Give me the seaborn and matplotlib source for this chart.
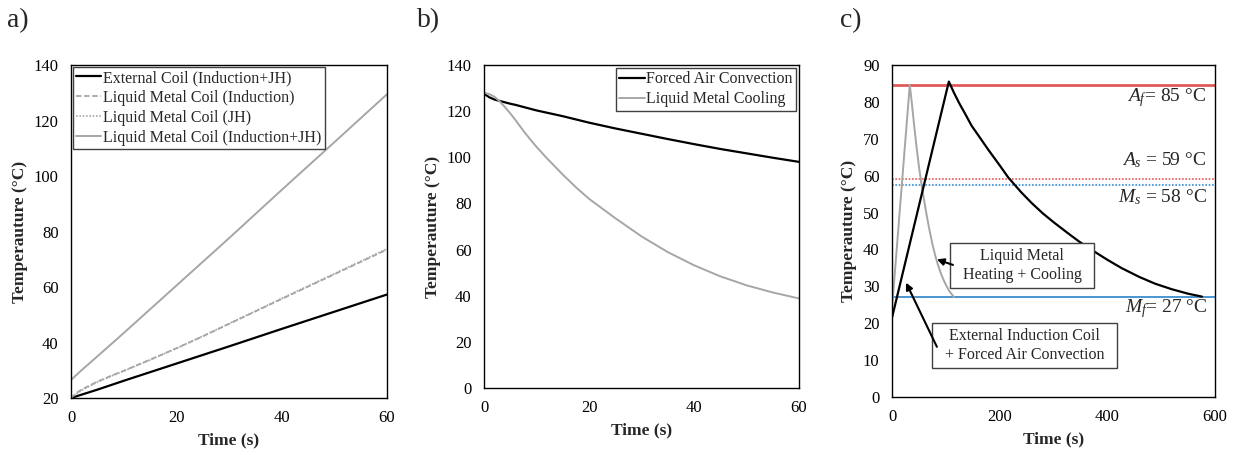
import matplotlib
matplotlib.use("Agg")
import matplotlib.pyplot as plt
import seaborn as sns
import numpy as np
import pandas as pd

# ---------------- data ----------------
# Panel a: heating
t_a = [0, 1, 2, 3, 5, 7.5, 10, 15, 20, 25, 30, 40, 50, 60]
ext_coil = [20, 20.6, 21.2, 21.8, 23.0, 24.6, 26.2, 29.3, 32.4, 35.5, 38.6, 44.9, 51.1, 57.3]
lm_induction = [20, 21.8, 23.0, 24.0, 25.9, 27.9, 29.8, 33.8, 37.9, 42.2, 46.7, 55.7, 64.6, 73.5]
lm_jh = [20, 21.5, 22.7, 23.8, 25.7, 27.8, 29.7, 33.7, 37.9, 42.3, 46.8, 55.9, 64.8, 73.8]
t_a_ij = [0, 0, 2, 5, 10, 20, 30, 40, 50, 60]
lm_ind_jh = [20, 26.5, 30.0, 35.0, 43.4, 60.5, 77.6, 95.0, 112.2, 129.5]

# Panel b: cooling
t_b = [0, 1, 2, 3, 4, 5, 6, 7, 8, 9, 10, 12, 15, 17.5, 20, 25, 30, 35, 40, 45, 50, 55, 60]
forced_air = [127.5, 126.0, 125.0, 124.4, 123.8, 123.2, 122.7, 122.1, 121.5, 120.9, 120.3,
              119.3, 117.8, 116.4, 115.0, 112.5, 110.2, 107.9, 105.7, 103.6, 101.7, 99.8, 98.0]
lm_cooling = [128.0, 127.4, 126.2, 124.2, 121.7, 119.0, 116.1, 113.0, 110.0, 107.2, 104.5,
              99.5, 92.5, 87.0, 82.0, 73.6, 65.7, 58.9, 53.2, 48.4, 44.5, 41.4, 38.8]

# Panel c: full cycle
t_c_ext = [0, 105.6, 115, 125, 135, 148, 160, 179, 200, 216, 240, 260, 280, 300, 325,
           347, 375, 400, 427, 460, 489, 520, 550, 576]
T_c_ext = [21.5, 85.5, 82.5, 79.6, 77.0, 73.5, 71.0, 67.0, 62.8, 59.5, 55.5, 52.5, 49.8,
           47.4, 44.6, 42.2, 39.5, 37.2, 34.9, 32.5, 30.7, 29.2, 28.0, 27.2]
t_c_lm = [0, 33, 37, 41, 45, 50, 55, 60, 65, 70, 75, 80, 85, 90, 95, 100, 107, 115]
T_c_lm = [24, 84.6, 79.5, 73.8, 68.5, 62.5, 57.5, 53.0, 48.8, 45.0, 41.5, 38.5, 36.0,
          33.8, 32.0, 30.4, 28.6, 27.1]

A_f, A_s, M_s, M_f = 84.6, 59.0, 57.4, 27.0
labels_a = ["External Coil (Induction+JH)", "Liquid Metal Coil (Induction)",
            "Liquid Metal Coil (JH)", "Liquid Metal Coil (Induction+JH)"]
labels_b = ["Forced Air Convection", "Liquid Metal Cooling"]
yticks_a = [20, 40, 60, 80, 100, 120, 140]
yticks_b = [0, 20, 40, 60, 80, 100, 120, 140]
yticks_c = list(range(0, 100, 10))
xticks_ab = [0, 20, 40, 60]
xticks_c = [0, 200, 400, 600]

# ---------------- style ----------------
sns.set_theme(style="white")
plt.rcParams['font.family'] = ['Liberation Serif', 'DejaVu Serif']
plt.rcParams['mathtext.fontset'] = 'custom'
plt.rcParams['mathtext.rm'] = 'Liberation Serif'
plt.rcParams['mathtext.it'] = 'Liberation Serif:italic'
plt.rcParams['axes.edgecolor'] = 'black'
plt.rcParams['axes.linewidth'] = 1.0

GRAY = '#a6a6a6'
RED = '#e05a5a'
BLUE = '#3a8ccf'

fig = plt.figure(figsize=(12.37, 4.55), dpi=100)
ax_a = fig.add_axes([0.0574, 0.1253, 0.2555, 0.7317])
ax_b = fig.add_axes([0.3913, 0.1473, 0.2546, 0.7099])
ax_c = fig.add_axes([0.7211, 0.1275, 0.2611, 0.7297])

# ---- panel a ----
sns.lineplot(x=t_a, y=ext_coil, ax=ax_a, color='black', lw=1.6, label=labels_a[0])
sns.lineplot(x=t_a, y=lm_induction, ax=ax_a, color=GRAY, lw=1.3, linestyle=(0, (3, 1.5)), label=labels_a[1])
sns.lineplot(x=t_a, y=lm_jh, ax=ax_a, color=GRAY, lw=1.2, linestyle=(0, (1, 1)), label=labels_a[2])
sns.lineplot(x=t_a_ij, y=lm_ind_jh, ax=ax_a, color=GRAY, lw=1.4, label=labels_a[3],
             estimator=None, sort=False)
ax_a.set_xlim(0, 60)
ax_a.set_ylim(20, 140)
ax_a.set_yticks(yticks_a)
ax_a.set_xticks(xticks_ab)
leg = ax_a.legend(loc='upper left', bbox_to_anchor=(0.005, 0.995), borderaxespad=0,
                  fontsize=11.5, handlelength=1.6, handletextpad=0.1, labelspacing=0.25,
                  borderpad=0.2, fancybox=False, framealpha=1)
leg.get_frame().set_edgecolor('#404040')
leg.get_frame().set_linewidth(1.0)

# ---- panel b ----
sns.lineplot(x=t_b, y=forced_air, ax=ax_b, color='black', lw=1.6, label=labels_b[0])
sns.lineplot(x=t_b, y=lm_cooling, ax=ax_b, color=GRAY, lw=1.4, label=labels_b[1])
ax_b.set_xlim(0, 60)
ax_b.set_ylim(0, 140)
ax_b.set_yticks(yticks_b)
ax_b.set_xticks(xticks_ab)
leg = ax_b.legend(loc='upper right', bbox_to_anchor=(0.99, 0.99), borderaxespad=0,
                  fontsize=11.5, handlelength=1.6, handletextpad=0.1, labelspacing=0.25,
                  borderpad=0.2, fancybox=False, framealpha=1)
leg.get_frame().set_edgecolor('#404040')
leg.get_frame().set_linewidth(1.0)

# ---- panel c ----
ax_c.axhline(A_f, color=RED, lw=2.0)
ax_c.axhline(A_s, color=RED, lw=1.2, linestyle=(0, (1, 1)))
ax_c.axhline(M_s, color=BLUE, lw=1.2, linestyle=(0, (1, 1)))
ax_c.axhline(M_f, color=BLUE, lw=1.3)
sns.lineplot(x=t_c_lm, y=T_c_lm, ax=ax_c, color=GRAY, lw=1.4)
sns.lineplot(x=t_c_ext, y=T_c_ext, ax=ax_c, color='black', lw=1.6)
ax_c.set_xlim(0, 600)
ax_c.set_ylim(0, 90)
ax_c.set_yticks(yticks_c)
ax_c.set_xticks(xticks_c)

tfs = 14
ax_c.text(583, 81.3, r'$A_f$= 85 °C', ha='right', va='center', fontsize=tfs)
ax_c.text(583, 64.2, r'$A_s$ = 59 °C', ha='right', va='center', fontsize=tfs)
ax_c.text(586, 54.3, r'$M_s$ = 58 °C', ha='right', va='center', fontsize=tfs)
ax_c.text(586, 24.1, r'$M_f$= 27 °C', ha='right', va='center', fontsize=tfs)

box = dict(boxstyle='square,pad=0.3', facecolor='white', edgecolor='#404040', lw=1.0)
arrow = dict(arrowstyle='-|>', color='black', lw=1.5, mutation_scale=10, shrinkA=0, shrinkB=0)
ax_c.text(242, 35.6, '  Liquid Metal  \n  Heating + Cooling  ', ha='center', va='center',
          fontsize=11.5, bbox=box, linespacing=1.25)
ax_c.annotate('', xy=(83.4, 37.3), xytext=(113.2, 35.8), arrowprops=arrow)
ax_c.text(246, 14.0, '  External Induction Coil  \n  + Forced Air Convection  ', ha='center',
          va='center', fontsize=11.5, bbox=box, linespacing=1.25)
ax_c.annotate('', xy=(26.1, 31.0), xytext=(83.4, 13.6), arrowprops=arrow)

for ax in (ax_a, ax_b, ax_c):
    ax.set_xlabel('Time (s)', fontsize=12.5, fontweight='bold')
    ax.set_ylabel('Temperauture (°C)', fontsize=12.5, fontweight='bold')
    ax.tick_params(axis='both', length=0, pad=9, labelsize=12, colors='black')
    for s in ax.spines.values():
        s.set_visible(True)
        s.set_color('black')
        s.set_linewidth(1.0)
    ax.grid(False)

fig.text(0.0057, 0.955, 'a)', fontsize=20, va='center', ha='left')
fig.text(0.337, 0.955, 'b)', fontsize=20, va='center', ha='left')
fig.text(0.679, 0.955, 'c)', fontsize=20, va='center', ha='left')

fig.savefig('out.png', dpi=100)
